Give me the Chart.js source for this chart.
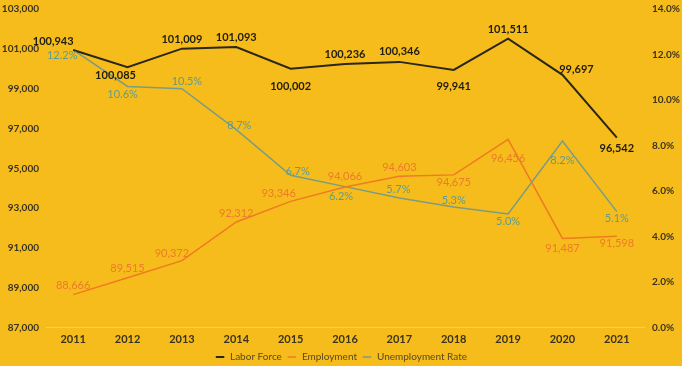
<!DOCTYPE html>
<html>
<head>
<meta charset="utf-8">
<script src="https://cdn.jsdelivr.net/npm/chart.js@4"></script>
<style>
  html, body { margin: 0; padding: 0; background: #F6BC1B; }
  #wrap { width: 682px; height: 366px; }
</style>
</head>
<body>
<div id="wrap"><canvas id="laborChart"></canvas></div>
<script>
// data
const years = ["2011","2012","2013","2014","2015","2016","2017","2018","2019","2020","2021"];
const laborForce = [100943, 100085, 101009, 101093, 100002, 100236, 100346, 99941, 101511, 99697, 96542];
const employment = [88666, 89515, 90372, 92312, 93346, 94066, 94603, 94675, 96456, 91487, 91598];
const unemploymentRate = [12.2, 10.6, 10.5, 8.7, 6.7, 6.2, 5.7, 5.3, 5.0, 8.2, 5.1];

// label placement (dx, dy in px from the point)
const laborPos = [[-20,-9],[-12,8],[0,-9],[0,-10],[0,18],[0,-10],[0,-10],[0,17],[0,-9],[14,-5],[0,11]];
const emplPos  = [[0,-9],[0,-9],[-10,-7],[0,-9],[-12,-8],[0,-11],[0,-9],[0,8],[0,19],[0,10],[0,7]];
const unempPos = [[-11,5],[-5,8],[5,-7],[3,-4],[7,-4],[-4,10],[-1,-9],[0,-7],[0,8],[0,19],[0,7]];

const fmtNum = v => v.toLocaleString("en-US");
const fmtPct = v => v.toFixed(1) + "%";

const pointLabels = {
  id: "pointLabels",
  afterDatasetsDraw(chart) {
    const ctx = chart.ctx;
    chart.data.datasets.forEach((ds, i) => {
      const meta = chart.getDatasetMeta(i);
      ctx.save();
      ctx.font = ds.labelFont;
      ctx.fillStyle = ds.labelColor;
      ctx.textAlign = "center";
      ctx.textBaseline = "middle";
      meta.data.forEach((pt, j) => {
        const off = ds.labelPos[j];
        ctx.fillText(ds.labelFmt(ds.data[j]), pt.x + off[0], pt.y + off[1]);
      });
      ctx.restore();
    });
  }
};

Chart.defaults.font.family = "Lato, 'Open Sans', sans-serif";
Chart.defaults.color = "#3a3220";

// fixed side widths, no automatic top/bottom padding for the value axes
function fitSide(width) {
  return scale => {
    scale.width = width;
    scale.paddingTop = 0;
    scale.paddingBottom = 0;
  };
}

new Chart(document.getElementById("laborChart"), {
  type: "line",
  data: {
    labels: years,
    datasets: [
      {
        label: "Labor Force",
        data: laborForce,
        yAxisID: "y",
        borderColor: "#2b2718",
        borderWidth: 2,
        pointRadius: 0,
        tension: 0,
        labelPos: laborPos,
        labelFmt: fmtNum,
        labelFont: "bold 11px Lato, 'Open Sans', sans-serif",
        labelColor: "#1f1c12"
      },
      {
        label: "Employment",
        data: employment,
        yAxisID: "y",
        borderColor: "#F07A22",
        borderWidth: 1.5,
        pointRadius: 0,
        tension: 0,
        labelPos: emplPos,
        labelFmt: fmtNum,
        labelFont: "11px Lato, 'Open Sans', sans-serif",
        labelColor: "#EE7A2A"
      },
      {
        label: "Unemployment Rate",
        data: unemploymentRate,
        yAxisID: "y1",
        borderColor: "#7A9C84",
        borderWidth: 1.5,
        pointRadius: 0,
        tension: 0,
        labelPos: unempPos,
        labelFmt: fmtPct,
        labelFont: "11px Lato, 'Open Sans', sans-serif",
        labelColor: "#5E9C92"
      }
    ]
  },
  options: {
    responsive: true,
    maintainAspectRatio: false,
    animation: false,
    layout: { padding: { top: 9, left: 0, right: 0, bottom: -6 } },
    plugins: {
      legend: {
        position: "bottom",
        labels: {
          usePointStyle: true,
          pointStyle: "line",
          boxWidth: 14,
          boxHeight: 6,
          padding: 5,
          font: { size: 10 },
          color: "#5a4a1a"
        }
      },
      tooltip: { enabled: false }
    },
    scales: {
      x: {
        offset: true,
        afterFit(scale) { scale.height += 4; },
        grid: { display: false },
        border: { display: true, color: "rgba(255,230,150,0.45)" },
        ticks: { font: { size: 11, weight: "bold" }, padding: -3 }
      },
      y: {
        position: "left",
        min: 87000,
        max: 103000,
        afterFit: fitSide(46),
        grid: { display: false, drawTicks: false },
        border: { display: false },
        ticks: { stepSize: 2000, font: { size: 10, weight: "bold" }, padding: 7, callback: v => fmtNum(v) }
      },
      y1: {
        position: "right",
        min: 0,
        max: 14,
        afterFit: fitSide(38),
        grid: { display: false, drawTicks: false },
        border: { display: false },
        ticks: { stepSize: 2, font: { size: 10, weight: "bold" }, padding: 8, callback: v => v.toFixed(1) + "%" }
      }
    }
  },
  plugins: [pointLabels]
});
</script>
</body>
</html>
